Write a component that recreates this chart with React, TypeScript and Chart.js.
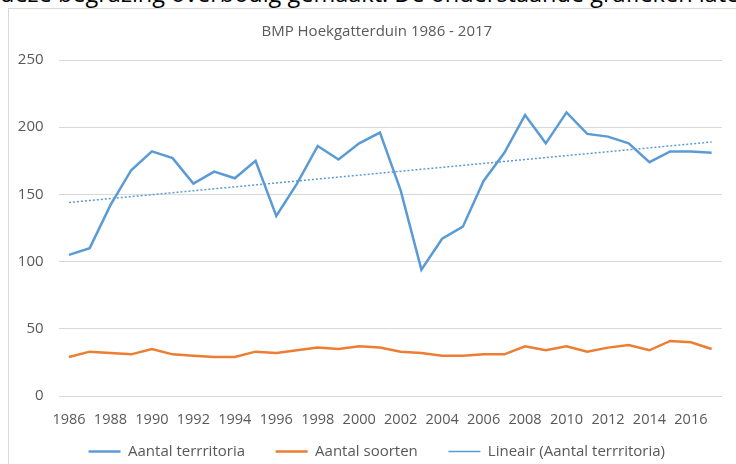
import React, { useEffect, useRef } from 'react';
import { Chart, registerables } from 'chart.js';

Chart.register(...registerables);

const years = [
  '1986', '1987', '1988', '1989', '1990', '1991', '1992', '1993',
  '1994', '1995', '1996', '1997', '1998', '1999', '2000', '2001',
  '2002', '2003', '2004', '2005', '2006', '2007', '2008', '2009',
  '2010', '2011', '2012', '2013', '2014', '2015', '2016', '2017',
];

const territoria = [
  105, 110, 142, 168, 182, 177, 158, 167,
  162, 175, 134, 158, 186, 176, 188, 196,
  153, 94, 117, 126, 160, 181, 209, 188,
  211, 195, 193, 188, 174, 182, 182, 181,
];

const soorten = [
  29, 33, 32, 31, 35, 31, 30, 29,
  29, 33, 32, 34, 36, 35, 37, 36,
  33, 32, 30, 30, 31, 31, 37, 34,
  37, 33, 36, 38, 34, 41, 40, 35,
];

// trend line (Lineair) value at the first and last year
const trendEnds = [144, 189];

const yTicks = [0, 50, 100, 150, 200, 250];

const FONT = "'Open Sans', sans-serif";
const GRAY = '#595959';

export default function App() {
  const ref = useRef<HTMLCanvasElement | null>(null);

  useEffect(() => {
    if (!ref.current) return;
    const trend: (number | null)[] = years.map(() => null);
    trend[0] = trendEnds[0];
    trend[years.length - 1] = trendEnds[1];

    const chart = new Chart(ref.current, {
      type: 'line',
      data: {
        labels: years,
        datasets: [
          {
            label: 'Aantal terrritoria',
            data: territoria,
            borderColor: '#5b9bd5',
            backgroundColor: '#5b9bd5',
            borderWidth: 2.5,
            pointRadius: 0,
            pointStyle: 'line',
            tension: 0,
          },
          {
            label: 'Aantal soorten',
            data: soorten,
            borderColor: '#ed7d31',
            backgroundColor: '#ed7d31',
            borderWidth: 2.5,
            pointRadius: 0,
            pointStyle: 'line',
            tension: 0,
          },
          {
            label: 'Lineair (Aantal terrritoria)',
            data: trend,
            borderColor: '#5b9bd5',
            backgroundColor: '#5b9bd5',
            borderWidth: 1.5,
            borderDash: [2, 2],
            pointRadius: 0,
            pointStyle: 'line',
            spanGaps: true,
          },
        ],
      },
      options: {
        responsive: false,
        animation: false,
        devicePixelRatio: 1,
        layout: { padding: { left: 17.6, right: 0, top: 0, bottom: 11 } },
        plugins: {
          title: {
            display: true,
            text: 'BMP Hoekgatterduin 1986 - 2017',
            color: GRAY,
            font: { family: FONT, size: 15, weight: 'normal' },
            padding: { top: 22.5, bottom: 19.5 },
          },
          legend: {
            position: 'bottom',
            labels: {
              usePointStyle: true,
              pointStyleWidth: 32,
              padding: 15,
              color: GRAY,
              font: { family: FONT, size: 15 },
              generateLabels: (c: any) => {
                const items = Chart.defaults.plugins.legend.labels.generateLabels(c);
                return items.map((it: any, i: number) =>
                  i < items.length - 1 ? { ...it, text: it.text + '    ' } : it
                );
              },
            },
          },
          tooltip: { enabled: false },
        },
        scales: {
          x: {
            type: 'category',
            offset: true,
            grid: { display: false, offset: true, drawTicks: false },
            border: { display: false },
            ticks: {
              color: GRAY,
              font: { family: FONT, size: 14.5 },
              padding: 15.5,
              autoSkip: false,
              maxRotation: 0,
              minRotation: 0,
              callback: (_v: any, i: number) => (i % 2 === 0 ? years[i] : ''),
            },
            afterFit: (s: any) => {
              s.height = 33;
            },
          },
          y: {
            min: yTicks[0],
            max: yTicks[yTicks.length - 1],
            grid: { color: '#d9d9d9', drawTicks: false, lineWidth: 1 },
            border: { display: false },
            ticks: {
              stepSize: yTicks[1] - yTicks[0],
              color: GRAY,
              font: { family: FONT, size: 15 },
              padding: 15,
            },
            afterFit: (s: any) => {
              s.width = 41;
            },
          },
          y2: {
            position: 'right',
            display: true,
            grid: { display: false },
            border: { display: false },
            ticks: { display: false },
            afterFit: (s: any) => {
              s.width = 14;
            },
          },
        },
      },
    });
    return () => chart.destroy();
  }, []);

  return (
    <div
      style={{
        position: 'fixed',
        left: 0,
        top: 0,
        width: 736,
        height: 464,
        overflow: 'hidden',
        background: '#ffffff',
      }}
    >
      <div
        style={{
          position: 'absolute',
          left: 0,
          top: -18,
          fontFamily: FONT,
          fontSize: 23.5,
          lineHeight: '23.5px',
          color: '#000000',
          whiteSpace: 'nowrap',
        }}
      >
        deze begrazing overbodig gemaakt. De onderstaande grafieken laten
      </div>
      <div
        style={{
          position: 'absolute',
          left: 8,
          top: 8,
          width: 800,
          height: 600,
          border: '1px solid #d9d9d9',
          boxSizing: 'border-box',
        }}
      />
      <canvas
        ref={ref}
        width={736}
        height={480}
        style={{ position: 'absolute', left: 0, top: 0, width: 736, height: 480 }}
      />
    </div>
  );
}
